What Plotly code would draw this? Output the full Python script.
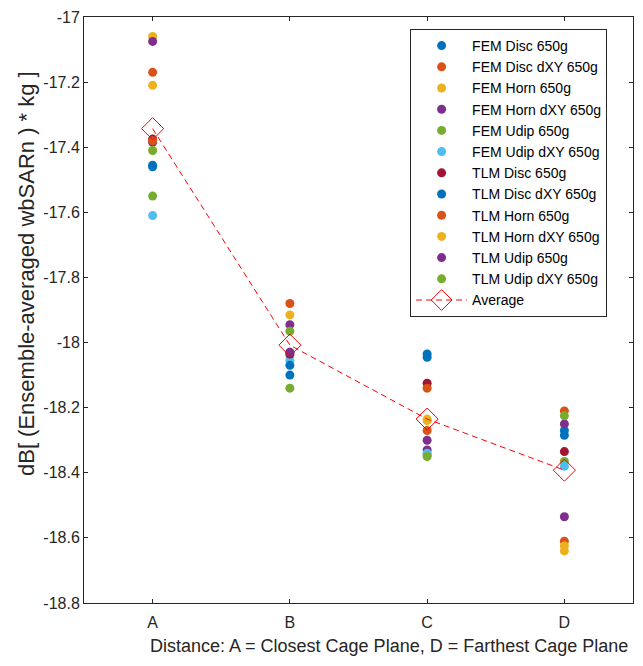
import plotly.graph_objects as go

categories = ["A", "B", "C", "D"]
cat_pos = [1, 2, 3, 4]

series_names = [
    "FEM Disc 650g", "FEM Disc dXY 650g", "FEM Horn 650g", "FEM Horn dXY 650g",
    "FEM Udip 650g", "FEM Udip dXY 650g", "TLM Disc 650g", "TLM Disc dXY 650g",
    "TLM Horn 650g", "TLM Horn dXY 650g", "TLM Udip 650g", "TLM Udip dXY 650g",
]
series_colors = [
    "#0072BD", "#D95319", "#EDB120", "#7E2F8E", "#77AC30", "#4DBEEE",
    "#A2142F", "#0072BD", "#D95319", "#EDB120", "#7E2F8E", "#77AC30",
]

fem_disc = [-17.46, -18.10, -18.035, -18.27]
fem_disc_dxy = [-17.17, -18.03, -18.27, -18.61]
fem_horn = [-17.21, -18.04, -18.24, -18.625]
fem_horn_dxy = [-17.385, -17.945, -18.33, -18.535]
fem_udip = [-17.55, -18.14, -18.345, -18.365]
fem_udip_dxy = [-17.61, -18.055, -18.34, -18.38]
tlm_disc = [-17.375, -18.035, -18.125, -18.335]
tlm_disc_dxy = [-17.455, -18.07, -18.045, -18.285]
tlm_horn = [-17.38, -17.88, -18.14, -18.21]
tlm_horn_dxy = [-17.06, -17.915, -18.235, -18.64]
tlm_udip = [-17.075, -18.03, -18.30, -18.25]
tlm_udip_dxy = [-17.41, -17.965, -18.35, -18.225]

average = [-17.343, -18.008, -18.235, -18.392]

series_values = [
    fem_disc, fem_disc_dxy, fem_horn, fem_horn_dxy, fem_udip, fem_udip_dxy,
    tlm_disc, tlm_disc_dxy, tlm_horn, tlm_horn_dxy, tlm_udip, tlm_udip_dxy,
]

y_tick_vals = [-17, -17.2, -17.4, -17.6, -17.8, -18, -18.2, -18.4, -18.6, -18.8]
y_tick_text = ["-17", "-17.2", "-17.4", "-17.6", "-17.8", "-18", "-18.2", "-18.4", "-18.6", "-18.8"]

x_title = "Distance: A = Closest Cage Plane, D = Farthest Cage Plane"
y_title = "dB[ (Ensemble-averaged wbSARn ) * kg ]"

FONT = "Liberation Sans, Arial, Helvetica, sans-serif"

fig = go.Figure()
for name, color, vals in zip(series_names, series_colors, series_values):
    fig.add_trace(go.Scatter(
        x=cat_pos, y=vals, mode="markers", name=name,
        marker=dict(color=color, size=9, line=dict(width=0)),
    ))

fig.add_trace(go.Scatter(
    x=cat_pos, y=average, mode="lines+markers", name="Average",
    line=dict(color="#FF0000", width=1, dash="6px,4px"),
    marker=dict(symbol="diamond-open", size=17, color="#FF0000", line=dict(width=1)),
))

axis_common = dict(
    showgrid=False, zeroline=False, showline=True, linecolor="#262626", linewidth=1,
    mirror="allticks", ticks="inside", ticklen=4, tickcolor="#262626",
    tickfont=dict(family=FONT, size=16, color="#262626"),
    automargin=False, ticklabeloverflow="allow",
)

fig.update_layout(
    width=643, height=666,
    paper_bgcolor="white", plot_bgcolor="white",
    margin=dict(l=76, r=18, t=9, b=71),
    font=dict(family=FONT, color="#262626"),
    xaxis=dict(
        range=[0.5, 4.5], tickvals=cat_pos, ticktext=categories,
        ticklabelstandoff=5,
        **axis_common,
    ),
    yaxis=dict(
        range=[-18.8, -17], tickvals=y_tick_vals, ticktext=y_tick_text,
        ticklabelstandoff=0,
        **axis_common,
    ),
    legend=dict(
        x=0.594, y=0.9795, xanchor="left", yanchor="top",
        bgcolor="white", bordercolor="#262626", borderwidth=1,
        font=dict(family=FONT, size=14, color="black"),
        tracegroupgap=0, itemwidth=51,
    ),
    showlegend=True,
    annotations=[
        dict(text=x_title, xref="paper", yref="paper", x=0.5556, y=-0.073,
             xanchor="center", yanchor="middle", showarrow=False,
             font=dict(family=FONT, size=18, color="#262626")),
        dict(text=y_title, xref="paper", yref="paper", x=-0.105, y=0.562,
             xanchor="center", yanchor="middle", showarrow=False, textangle=-90,
             font=dict(family=FONT, size=22, color="#262626")),
    ],
)

fig.write_html("out.html")
